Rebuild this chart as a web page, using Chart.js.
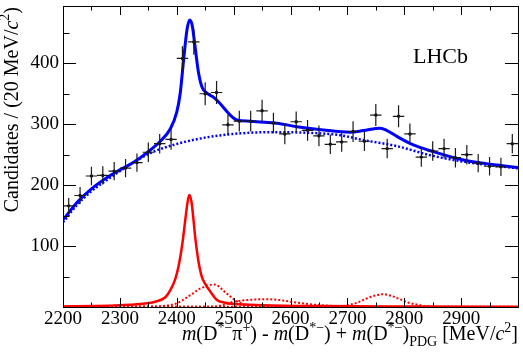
<!DOCTYPE html>
<html>
<head>
<meta charset="utf-8">
<script src="https://cdn.jsdelivr.net/npm/chart.js@4.4.1/dist/chart.umd.min.js"></script>
<style>
  html, body { margin: 0; padding: 0; background: #fff; }
</style>
</head>
<body>
<canvas id="chart" width="523" height="354"></canvas>
<script>
/* ── data ── */
const binCentres = [2210, 2230, 2250, 2270, 2290, 2310, 2330, 2350, 2370, 2390,
                    2410, 2430, 2450, 2470, 2490, 2510, 2530, 2550, 2570, 2590,
                    2610, 2630, 2650, 2670, 2690, 2710, 2730, 2750, 2770, 2790,
                    2810, 2830, 2850, 2870, 2890, 2910, 2930, 2950, 2970, 2990];
const counts     = [166, 183, 215, 216, 223, 228, 237, 254, 268, 275,
                    408, 435, 350, 352, 299, 305, 305, 322, 302, 284,
                    304, 290, 281, 267, 271, 288, 272, 315, 260, 313,
                    284, 246, 256, 260, 245, 250, 236, 231, 230, 268];
const countErrs  = [13, 14, 15, 15, 15, 15, 15, 16, 16, 17,
                    20, 21, 19, 19, 17, 17, 17, 18, 17, 17,
                    17, 17, 17, 16, 16, 17, 16, 18, 16, 18,
                    17, 16, 16, 16, 16, 16, 15, 15, 15, 16];
const binHalfWidth = 10;

// total fit (blue solid)
const totalMass = [2200, 2225, 2250, 2275, 2300, 2325, 2350, 2371, 2389, 2400,
                   2406, 2412, 2418, 2422.5, 2427, 2432.5, 2438, 2444, 2453, 2465,
                   2476, 2494, 2506, 2529, 2541, 2576, 2611, 2658, 2705, 2728,
                   2758, 2769, 2787, 2816, 2846, 2904, 2963, 3000];
const totalFit  = [143, 172, 194, 211, 225, 238, 255, 272, 293, 320,
                   350, 405, 455, 471, 463, 425, 386, 362, 351, 344,
                   334, 315, 307, 305, 304, 301.5, 296, 290.5, 287, 289.5,
                   293.5, 290, 280, 266, 256.5, 241.3, 233, 229];

// background (blue dotted)
const bkgMass = [2200, 2225, 2250, 2275, 2300, 2336, 2362, 2394, 2453, 2512,
                 2570, 2629, 2687, 2728, 2787, 2846, 2904, 2950, 3000];
const bkgFit  = [139, 168, 190, 207, 223, 244, 256, 266, 278.5, 285,
                 287, 286, 282, 274, 264, 249, 238.5, 233, 227.5];

// D1(2420) signal (red solid)
const sigMass = [2200, 2260, 2300, 2330, 2362, 2380, 2389, 2397, 2403, 2410,
                 2415, 2419, 2422, 2426, 2433, 2438, 2444, 2450, 2460, 2470,
                 2485, 2500, 2550, 2650, 2800, 3000];
const sigFit  = [0.8, 1.8, 3, 4.5, 8.7, 16, 28, 45, 66, 105,
                 143, 172, 184, 172, 110, 76, 50, 38, 24, 12,
                 7, 5, 3, 1.5, 0.8, 0.5];

// other components (red dotted)
const compAMass = [2200, 2350, 2380, 2400, 2424, 2441, 2466, 2488, 2506, 2520, 2540, 2570, 3000];
const compAFit  = [0.2, 0.8, 2, 6, 19.5, 30, 37, 22, 9, 4, 1.5, 0.5, 0.1];
const compBMass = [2200, 2460, 2480, 2500, 2525, 2555, 2580, 2600, 2625, 2652, 2680, 2720, 3000];
const compBFit  = [0.2, 0.5, 3, 8.7, 11.5, 12.8, 11.5, 8.7, 5.5, 3, 1.5, 0.5, 0.1];
const compCMass = [2200, 2660, 2690, 2705, 2720, 2734, 2750, 2763, 2778, 2793, 2808, 2822, 2840, 2870, 3000];
const compCFit  = [0.2, 0.5, 1.5, 4, 8, 14, 19, 21, 18, 12.5, 7, 4, 1.5, 0.5, 0.2];

// axis ticks
const xMajor = [2200, 2300, 2400, 2500, 2600, 2700, 2800, 2900, 3000];
const xMinor = [2250, 2350, 2450, 2550, 2650, 2750, 2850, 2950];
const xLabels = [2200, 2300, 2400, 2500, 2600, 2700, 2800, 2900];
const yMajor = [100, 200, 300, 400];
const yMinor = [50, 150, 250, 350, 450];

const FONT = '"Liberation Serif", "Times New Roman", serif';

const pts = (xs, ys) => xs.map((m, i) => ({ x: m, y: ys[i] }));

/* draws text made of runs (italic, superscript, subscript) */
function drawRuns(ctx, runs, x, y, size, align) {
  const fontOf = r => `${r.it ? 'italic ' : ''}${(r.sup || r.sub) ? Math.round(size * 0.68) : size}px ${FONT}`;
  let w = 0;
  runs.forEach(r => { ctx.font = fontOf(r); w += ctx.measureText(r.t).width; });
  let cx = align === 'right' ? x - w : x;
  ctx.textBaseline = 'alphabetic';
  ctx.textAlign = 'left';
  runs.forEach(r => {
    ctx.font = fontOf(r);
    const dy = r.sup ? -size * 0.42 : r.sub ? size * 0.32 : 0;
    ctx.fillText(r.t, cx, y + dy);
    cx += ctx.measureText(r.t).width;
  });
}

/* error bars on the data points */
const errorBars = {
  id: 'errorBars',
  afterDatasetsDraw(chart) {
    const { ctx, scales: { x, y } } = chart;
    ctx.save();
    ctx.strokeStyle = '#1a1a1a';
    ctx.lineWidth = 1.2;
    ctx.beginPath();
    binCentres.forEach((m, i) => {
      const px = x.getPixelForValue(m), py = y.getPixelForValue(counts[i]);
      ctx.moveTo(x.getPixelForValue(m - binHalfWidth), py);
      ctx.lineTo(x.getPixelForValue(m + binHalfWidth), py);
      ctx.moveTo(px, y.getPixelForValue(counts[i] - countErrs[i]));
      ctx.lineTo(px, y.getPixelForValue(counts[i] + countErrs[i]));
    });
    ctx.stroke();
    ctx.restore();
  },
};

/* ROOT style frame, inward ticks on all four sides, titles */
const rootFrame = {
  id: 'rootFrame',
  afterDraw(chart) {
    const { ctx, chartArea: a, scales: { x, y } } = chart;
    ctx.save();
    ctx.strokeStyle = '#000';
    ctx.lineWidth = 1;
    ctx.beginPath();
    const xt = (v, len) => {
      const px = Math.round(x.getPixelForValue(v)) + 0.5;
      ctx.moveTo(px, a.bottom); ctx.lineTo(px, a.bottom - len);
      ctx.moveTo(px, a.top);    ctx.lineTo(px, a.top + len);
    };
    const yt = (v, len) => {
      const py = Math.round(y.getPixelForValue(v)) + 0.5;
      ctx.moveTo(a.left, py);  ctx.lineTo(a.left + len, py);
      ctx.moveTo(a.right, py); ctx.lineTo(a.right - len, py);
    };
    xMajor.forEach(v => xt(v, 9));
    xMinor.forEach(v => xt(v, 4.5));
    yMajor.forEach(v => yt(v, 13));
    yMinor.forEach(v => yt(v, 6.5));
    ctx.stroke();
    ctx.strokeRect(Math.round(a.left) + 0.5, Math.round(a.top) + 0.5,
                   Math.round(a.right - a.left), Math.round(a.bottom - a.top));

    ctx.fillStyle = '#000';
    // x title
    drawRuns(ctx, [
      { t: 'm', it: true }, { t: '(D' }, { t: '*\u2212', sup: true }, { t: '\u03c0' }, { t: '+', sup: true },
      { t: ') - ' }, { t: 'm', it: true }, { t: '(D' }, { t: '*\u2212', sup: true },
      { t: ') + ' }, { t: 'm', it: true }, { t: '(D' }, { t: '*\u2212', sup: true }, { t: ')' },
      { t: 'PDG', sub: true }, { t: ' [MeV/' }, { t: 'c', it: true }, { t: '2', sup: true }, { t: ']' },
    ], a.right, 340, 20, 'right');

    // y title
    ctx.save();
    ctx.translate(17.5, a.top + 1);
    ctx.rotate(-Math.PI / 2);
    drawRuns(ctx, [
      { t: 'Candidates / (20 MeV/' }, { t: 'c', it: true }, { t: '2', sup: true }, { t: ')' },
    ], 0, 0, 20, 'right');
    ctx.restore();

    // experiment label
    ctx.font = `22px ${FONT}`;
    ctx.textAlign = 'left';
    ctx.textBaseline = 'alphabetic';
    ctx.fillText('LHCb', 413, 63);
    ctx.restore();
  },
};

const curve = (data, color, width, dash) => ({
  type: 'line',
  data,
  borderColor: color,
  borderWidth: width,
  borderDash: dash || [],
  pointRadius: 0,
  fill: false,
  cubicInterpolationMode: 'monotone',
});

new Chart(document.getElementById('chart'), {
  type: 'scatter',
  data: {
    datasets: [
      { data: pts(binCentres, counts), pointRadius: 1.7, pointBackgroundColor: '#000',
        pointBorderWidth: 0, showLine: false, order: 0 },
      { ...curve(pts(compAMass, compAFit), '#ff0000', 2, [2, 2]), order: 5 },
      { ...curve(pts(compBMass, compBFit), '#ff0000', 2, [2, 2]), order: 5 },
      { ...curve(pts(compCMass, compCFit), '#ff0000', 2, [2, 2]), order: 5 },
      { ...curve(pts(sigMass, sigFit), '#ff0000', 2.5), order: 4 },
      { ...curve(pts(bkgMass, bkgFit), '#0000ff', 2.5, [2, 2]), order: 3 },
      { ...curve(pts(totalMass, totalFit), '#0000ff', 3), order: 2 },
    ],
  },
  options: {
    responsive: false,
    animation: false,
    layout: { padding: { top: 6, right: 5, left: 0, bottom: 0 } },
    plugins: { legend: { display: false }, tooltip: { enabled: false } },
    scales: {
      x: {
        type: 'linear', min: 2200, max: 3000,
        grid: { display: false, drawTicks: false },
        border: { display: false },
        afterBuildTicks: s => { s.ticks = xLabels.map(v => ({ value: v })); },
        afterFit: s => { s.height = 47; s.paddingLeft = 0; s.paddingRight = 0; },
        ticks: { color: '#000', padding: 1, maxRotation: 0, autoSkip: false,
                 callback: v => String(v), font: { family: FONT, size: 19 } },
      },
      y: {
        min: 0, max: 494,
        grid: { display: false, drawTicks: false },
        border: { display: false },
        afterBuildTicks: s => { s.ticks = yMajor.map(v => ({ value: v })); },
        afterFit: s => { s.width = 63; s.paddingTop = 0; s.paddingBottom = 0; },
        ticks: { color: '#000', padding: 4, callback: v => String(v),
                 font: { family: FONT, size: 19 } },
      },
    },
  },
  plugins: [errorBars, rootFrame],
});
</script>
</body>
</html>
